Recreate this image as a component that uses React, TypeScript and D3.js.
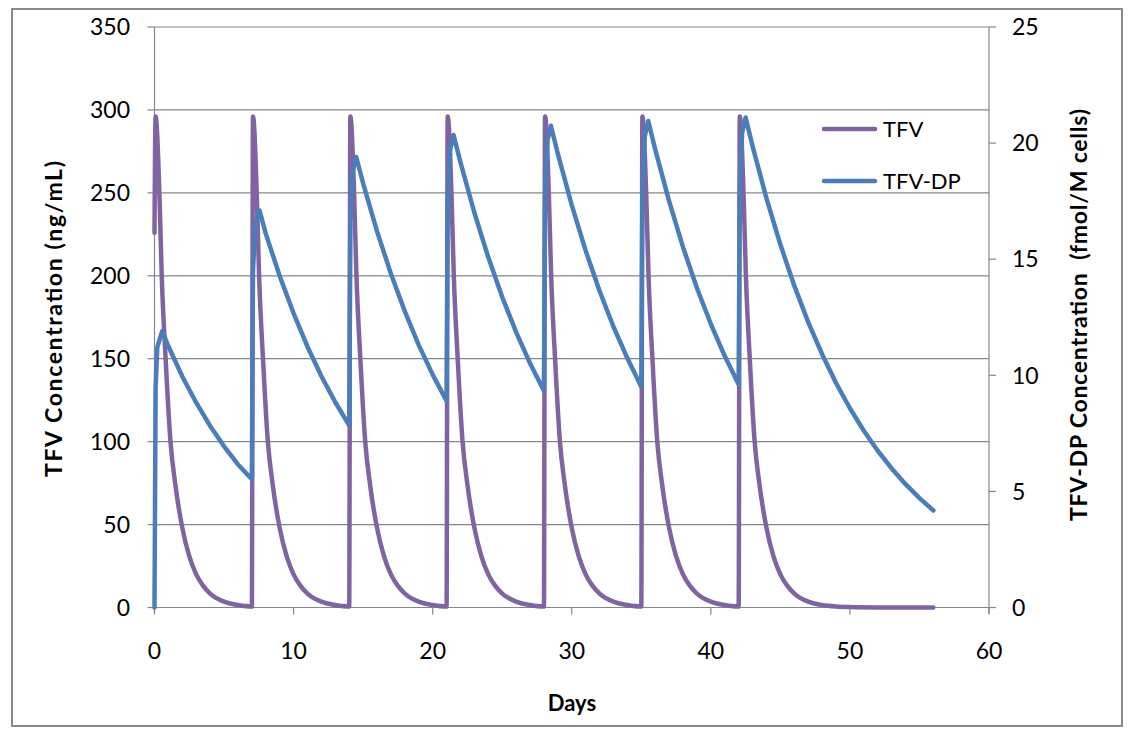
import React from "react";
import * as d3 from "d3";

// TFV plasma concentration (ng/mL) — [day, value]
const tfvPoints: [number, number][] = [
  [0, 226], [0.08, 296], [0.35, 250], [0.52, 200], [0.8, 150], [1.15, 100], [1.5, 74], [2, 48], [2.5, 31], [3, 20], [3.5, 13], [4, 8.4], [5, 3.5], [6, 1.5],
  [7, 0.6], [7.08, 296], [7.35, 250], [7.52, 200], [7.8, 150], [8.15, 100], [8.5, 74], [9, 48], [9.5, 31], [10, 20], [10.5, 13], [11, 8.4], [12, 3.5], [13, 1.5],
  [14, 0.6], [14.08, 296], [14.35, 250], [14.52, 200], [14.8, 150], [15.15, 100], [15.5, 74], [16, 48], [16.5, 31], [17, 20], [17.5, 13], [18, 8.4], [19, 3.5], [20, 1.5],
  [21, 0.6], [21.08, 296], [21.35, 250], [21.52, 200], [21.8, 150], [22.15, 100], [22.5, 74], [23, 48], [23.5, 31], [24, 20], [24.5, 13], [25, 8.4], [26, 3.5], [27, 1.5],
  [28, 0.6], [28.08, 296], [28.35, 250], [28.52, 200], [28.8, 150], [29.15, 100], [29.5, 74], [30, 48], [30.5, 31], [31, 20], [31.5, 13], [32, 8.4], [33, 3.5], [34, 1.5],
  [35, 0.6], [35.08, 296], [35.35, 250], [35.52, 200], [35.8, 150], [36.15, 100], [36.5, 74], [37, 48], [37.5, 31], [38, 20], [38.5, 13], [39, 8.4], [40, 3.5], [41, 1.5],
  [42, 0.6], [42.08, 296], [42.35, 250], [42.52, 200], [42.8, 150], [43.15, 100], [43.5, 74], [44, 48], [44.5, 31], [45, 20], [45.5, 13], [46, 8.4], [47, 3.5], [48, 1.5],
  [49, 0.6], [50, 0.25], [52, 0.05], [56, 0],
];

// TFV-DP intracellular concentration (fmol/M cells) — [day, value]
const tfvDpPoints: [number, number][] = [
  [0, 0], [0.08, 9.5], [0.2, 11.2], [0.55, 11.9], [1, 11.25], [2, 9.95], [3, 8.82], [4, 7.82], [5, 6.94], [6, 6.16],
  [7, 5.52], [7.08, 14.5], [7.25, 16.5], [7.55, 17.1], [8, 16.1], [9, 14.28], [10, 12.67], [11, 11.23], [12, 9.96], [13, 8.84],
  [14, 7.84], [14.08, 16.6], [14.25, 18.8], [14.5, 19.4], [15, 18.27], [16, 16.2], [17, 14.37], [18, 12.75], [19, 11.3], [20, 10.03],
  [21, 8.89], [21.08, 17.4], [21.25, 19.7], [21.5, 20.35], [22, 19.17], [23, 17.0], [24, 15.08], [25, 13.37], [26, 11.86], [27, 10.52],
  [28, 9.33], [28.08, 17.8], [28.25, 20.1], [28.5, 20.75], [29, 19.54], [30, 17.33], [31, 15.37], [32, 13.63], [33, 12.09], [34, 10.73],
  [35, 9.51], [35.08, 18.0], [35.25, 20.3], [35.5, 20.95], [36, 19.73], [37, 17.5], [38, 15.52], [39, 13.76], [40, 12.21], [41, 10.83],
  [42, 9.6], [42.08, 18.1], [42.25, 20.45], [42.5, 21.1], [43, 19.87], [44, 17.62], [45, 15.63], [46, 13.86], [47, 12.29], [48, 10.91],
  [49, 9.67], [50, 8.58], [51, 7.61], [52, 6.75], [53, 5.99], [54, 5.31], [55, 4.71], [56, 4.18],
];

const xTicks = [0, 10, 20, 30, 40, 50, 60];
const leftTicks = [0, 50, 100, 150, 200, 250, 300, 350];
const rightTicks = [0, 5, 10, 15, 20, 25];
const seriesNames = ["TFV", "TFV-DP"];
const seriesColors = ["#8064A2", "#4A7EBB"];

const FONT = "Lato, 'Open Sans', sans-serif";

export default function App() {
  const x = d3.scaleLinear().domain([0, 60]).range([154.5, 989]);
  const yL = d3.scaleLinear().domain([0, 350]).range([607.5, 27]);
  const yR = d3.scaleLinear().domain([0, 25]).range([607.5, 27]);

  const lineL = d3
    .line<[number, number]>()
    .x((d) => x(d[0]))
    .y((d) => yL(d[1]))
    .curve(d3.curveMonotoneX);
  const lineR = d3
    .line<[number, number]>()
    .x((d) => x(d[0]))
    .y((d) => yR(d[1]))
    .curve(d3.curveLinear);

  const grid = "#868686";
  const x0 = x(0);
  const x1 = x(60);
  const yb = yL(0);

  return (
    <svg
      width={1129}
      height={730}
      style={{ position: "absolute", left: 0, top: 0, background: "#fff" }}
      fontFamily={FONT}
    >
      <rect x={0} y={0} width={1129} height={730} fill="#fff" />
      <rect x={12} y={9} width={1110} height={717} fill="none" stroke="#8a8a8a" strokeWidth={2} />

      {/* gridlines */}
      {leftTicks.map((t) => (
        <line key={"g" + t} x1={x0} x2={x1} y1={yL(t)} y2={yL(t)} stroke={grid} strokeWidth={1.2} />
      ))}
      {/* left axis */}
      <line x1={x0} x2={x0} y1={yL(350)} y2={yb + 6} stroke={grid} strokeWidth={1.2} />
      {leftTicks.map((t) => (
        <g key={"l" + t}>
          <line x1={x0 - 7} x2={x0} y1={yL(t)} y2={yL(t)} stroke={grid} strokeWidth={1.2} />
          <text x={130} y={yL(t)} dy="0.36em" textAnchor="end" fontSize={23} fill="#000">
            {t}
          </text>
        </g>
      ))}
      {/* right axis */}
      <line x1={x1} x2={x1} y1={yR(25)} y2={yb + 6} stroke={grid} strokeWidth={1.2} />
      {rightTicks.map((t) => (
        <g key={"r" + t}>
          <line x1={x1} x2={x1 + 7} y1={yR(t)} y2={yR(t)} stroke={grid} strokeWidth={1.2} />
          <text x={1012} y={yR(t)} dy="0.36em" textAnchor="start" fontSize={23} fill="#000">
            {t}
          </text>
        </g>
      ))}
      {/* x axis ticks */}
      {xTicks.map((t) => (
        <g key={"x" + t}>
          <line x1={x(t)} x2={x(t)} y1={yb} y2={yb + 7} stroke={grid} strokeWidth={1.2} />
          <text x={x(t)} y={659} textAnchor="middle" fontSize={23} fill="#000">
            {t}
          </text>
        </g>
      ))}

      {/* series */}
      <path
        d={lineL(tfvPoints) || ""}
        fill="none"
        stroke={seriesColors[0]}
        strokeWidth={4.5}
        strokeLinejoin="round"
        strokeLinecap="round"
      />
      <path
        d={lineR(tfvDpPoints) || ""}
        fill="none"
        stroke={seriesColors[1]}
        strokeWidth={4.5}
        strokeLinejoin="round"
        strokeLinecap="round"
      />

      {/* legend */}
      {seriesNames.map((n, i) => (
        <g key={n}>
          <line
            x1={824}
            x2={875}
            y1={129 + i * 52}
            y2={129 + i * 52}
            stroke={seriesColors[i]}
            strokeWidth={4.5}
            strokeLinecap="round"
          />
          <text x={883} y={137 + i * 52} fontSize={22} fill="#000">
            {n}
          </text>
        </g>
      ))}

      {/* axis titles */}
      <text x={572} y={711} textAnchor="middle" fontSize={22} fontWeight="bold" fill="#000">
        Days
      </text>
      <text
        transform="translate(62,319) rotate(-90)"
        textAnchor="middle"
        fontSize={23}
        fontWeight="bold"
        fill="#000"
        textLength={316}
        lengthAdjust="spacing"
      >
        TFV Concentration (ng/mL)
      </text>
      <text
        transform="translate(1087,315) rotate(-90)"
        textAnchor="middle"
        fontSize={23}
        fontWeight="bold"
        fill="#000"
        textLength={412}
        lengthAdjust="spacing"
        style={{ whiteSpace: "pre" }}
      >
        {"TFV-DP Concentration  (fmol/M cells)"}
      </text>
    </svg>
  );
}
